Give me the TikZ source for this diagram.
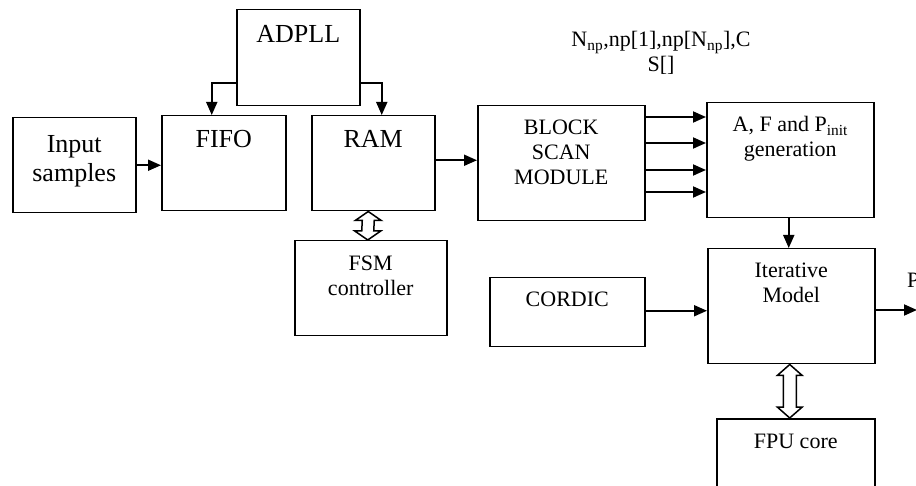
\documentclass[tikz,border=0pt]{standalone}
\usepackage{fontspec}
\setmainfont{Liberation Serif}
\usetikzlibrary{arrows.meta,calc}
\begin{document}
\begin{tikzpicture}[x=1pt,y=-1pt,
  box/.style={draw,line width=1.5pt,inner sep=0pt,anchor=north west},
  big/.style={font=\fontsize{26}{29}\selectfont,align=center,anchor=base,inner sep=0pt},
  small/.style={font=\fontsize{22}{25}\selectfont,align=center,anchor=base,inner sep=0pt},
  arr/.style={line width=1.8pt,-{Triangle[length=13pt,width=11pt]}},
  hollow/.style={draw,line width=1.5pt,fill=white,line join=miter}]
\useasboundingbox (0,0) rectangle (916,486);
\clip (0,0) rectangle (916,486);
% boxes
\node[box,minimum width=123,minimum height=95] (input) at (12,117) {};
\node[box,minimum width=124,minimum height=95] (fifo) at (161,115) {};
\node[box,minimum width=123,minimum height=95] (ram) at (311,115) {};
\node[box,minimum width=123,minimum height=96] (adpll) at (236,9) {};
\node[box,minimum width=152,minimum height=95] (fsm) at (294,240) {};
\node[box,minimum width=167,minimum height=115] (block) at (477,105) {};
\node[box,minimum width=167,minimum height=115] (afg) at (706,102) {};
\node[box,minimum width=155,minimum height=69] (cordic) at (489,277) {};
\node[box,minimum width=167,minimum height=115] (iter) at (707,248) {};
\node[box,minimum width=158,minimum height=90] (fpu) at (716,418) {};
% texts (base anchor = baseline of last line)
\node[big] (inputt) at ($(input.north)+(0,65)$) {Input\\samples};
\node[big] (fifot) at ($(fifo.north)+(0,33)$) {FIFO};
\node[big] (ramt) at ($(ram.north)+(0,33)$) {RAM};
\node[big] (adpllt) at ($(adpll.north)+(0,34)$) {ADPLL};
\node[small] (blockt) at ($(block.north)+(0,80)$) {BLOCK\\SCAN\\MODULE};
\node[small] (afgt) at ($(afg.north)+(0,55)$) {A, F and P\textsubscript{init}\\generation};
\node[small] (itert) at ($(iter.north)+(0,55)$) {Iterative\\Model};
\node[small] (fsmt) at ($(fsm.north)+(0,56)$) {FSM\\controller};
\node[small] (cordict) at ($(cordic.north)+(0,30)$) {CORDIC};
\node[small] (fput) at ($(fpu.north)+(0,30)$) {FPU core};
\node[small] (sig) at (661,72) {N\textsubscript{np},np[1],np[N\textsubscript{np}],C\\S[]};
\node[small,anchor=base west] (pout) at (907,288) {P};
% arrows
\draw[arr] (input.east) -- (input.east -| fifo.west);
\draw[arr] ($(adpll.west)+(0,25)$) -| ($(fifo.north)+(-12,0)$);
\draw[arr] ($(adpll.east)+(0,25)$) -| ($(ram.north)+(8.5,0)$);
\draw[arr] ($(ram.east)+(0,-3)$) -- ($(block.west)+(0,-3)$);
\path ($(block.north east)+(0,12)$) coordinate (s1)
      ($(block.north east)+(0,38)$) coordinate (s2)
      ($(block.north east)+(0,65)$) coordinate (s3)
      ($(block.north east)+(0,87)$) coordinate (s4);
\foreach \s in {s1,s2,s3,s4} \draw[arr] (\s) -- (\s -| afg.west);
\draw[arr] ($(afg.south)+(-1.5,0)$) -- ($(afg.south |- iter.north)+(-1.5,0)$);
\draw[arr] ($(cordic.east)+(0,-1.5)$) -- ($(cordic.east -| iter.west)+(0,-1.5)$);
\coordinate (out) at (917,310);
\draw[arr] (out -| iter.east) -- (out);
% hollow double arrows
\coordinate (d1) at ($(ram.south)+(-5,0)$);
\coordinate (d2) at ($(fsm.north)+(-3,0)$);
\draw[hollow] (d1) -- ++(13,9) -- ++(-7,0) -- ($(d2)+(6,-9)$) -- ++(7,0) -- (d2)
  -- ++(-13,-9) -- ++(7,0) -- ($(d1)+(-6,9)$) -- ++(-7,0) -- cycle;
\coordinate (d3) at ($(iter.south)+(-1.5,0)$);
\coordinate (d4) at ($(fpu.north)+(-6,0)$);
\draw[hollow] (d3) -- ++(12.5,11) -- ++(-6,0) -- ($(d4)+(6.5,-11)$) -- ++(6,0) -- (d4)
  -- ++(-12.5,-11) -- ++(6,0) -- ($(d3)+(-6.5,11)$) -- ++(-6,0) -- cycle;
\end{tikzpicture}
\end{document}
